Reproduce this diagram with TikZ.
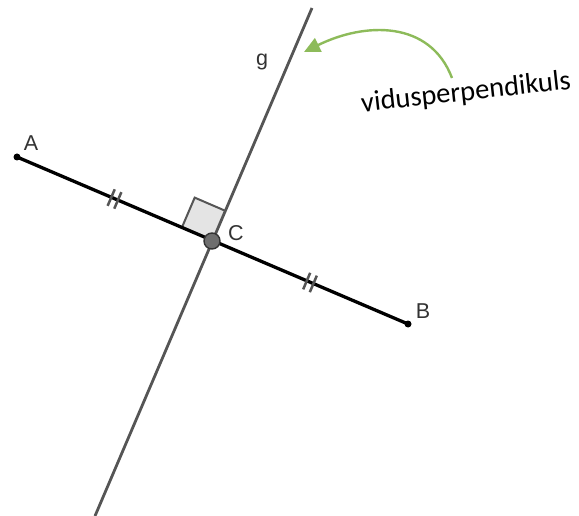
\documentclass[tikz,border=0pt]{standalone}
\usepackage{fontspec}
\setmainfont{Liberation Sans}
\newfontfamily\carlito{Carlito}
\usetikzlibrary{calc,arrows.meta}
\definecolor{lineg}{HTML}{555555}
\definecolor{labelc}{HTML}{333333}
\definecolor{arrowgreen}{HTML}{8DBB5A}
\definecolor{sqfill}{HTML}{E4E4E4}
\tikzset{
  lbl/.style={text=labelc, font=\fontsize{21.5}{21.5}\selectfont, inner sep=0pt},
  tick/.style={draw=lineg, line width=2.5pt},
}
\begin{document}
\begin{tikzpicture}[x=1pt,y=-1pt]
\useasboundingbox (0,0) rectangle (579,516);
\coordinate (A) at (17,157);
\coordinate (B) at (408,324);
\coordinate (C) at (212,241);
\coordinate (gtop) at (312,8);
\coordinate (gbot) at (95,516);
% right angle square
\coordinate (ua) at ($(C)!33pt!(A)$);
\coordinate (ug) at ($(C)!33pt!(gtop)$);
\fill[sqfill] (C) -- (ua) -- ($(ua)+(ug)-(C)$) -- (ug) -- cycle;
\draw[draw=lineg, line width=2pt, line join=miter] (ua) -- ($(ua)+(ug)-(C)$) -- (ug);
% line g
\draw[lineg, line width=2.8pt] (gtop) -- (gbot);
% segment AB
\draw[black, line width=3.3pt] (A) -- (B);
% ticks
\foreach \p/\q in {A/C, C/B}{
  \coordinate (m) at ($(\p)!0.5!(\q)$);
  \foreach \s in {-3.6,3.6}{
    \draw[tick] ($(m)!\s pt!(\q)!9pt!90:(\q)$) -- ($(m)!\s pt!(\q)!9pt!-90:(\q)$);
  }
}
% points
\fill[black] (A) circle (3.5pt);
\fill[black] (B) circle (3.5pt);
\filldraw[fill=lineg!85, draw=labelc, line width=1.4pt] (C) circle (8pt);
% labels
\node[lbl] (lA) at (31,143) {A};
\node[lbl] (lB) at (423,311) {B};
\node[lbl] (lC) at (236,233) {C};
\node[lbl] (lg) at (262,62) {g};
% annotation
\node[font=\carlito\fontsize{28.5}{28.5}\selectfont, rotate=6.3, inner sep=0pt] (vp) at (466,93) {vidusperpendikuls};
\coordinate (tip) at (304,52);
\draw[arrowgreen, line width=2.4pt, -{Triangle[length=16pt,width=15pt]}] (452,78) .. controls (430,20) and (365,22) .. (tip);
\end{tikzpicture}
\end{document}
